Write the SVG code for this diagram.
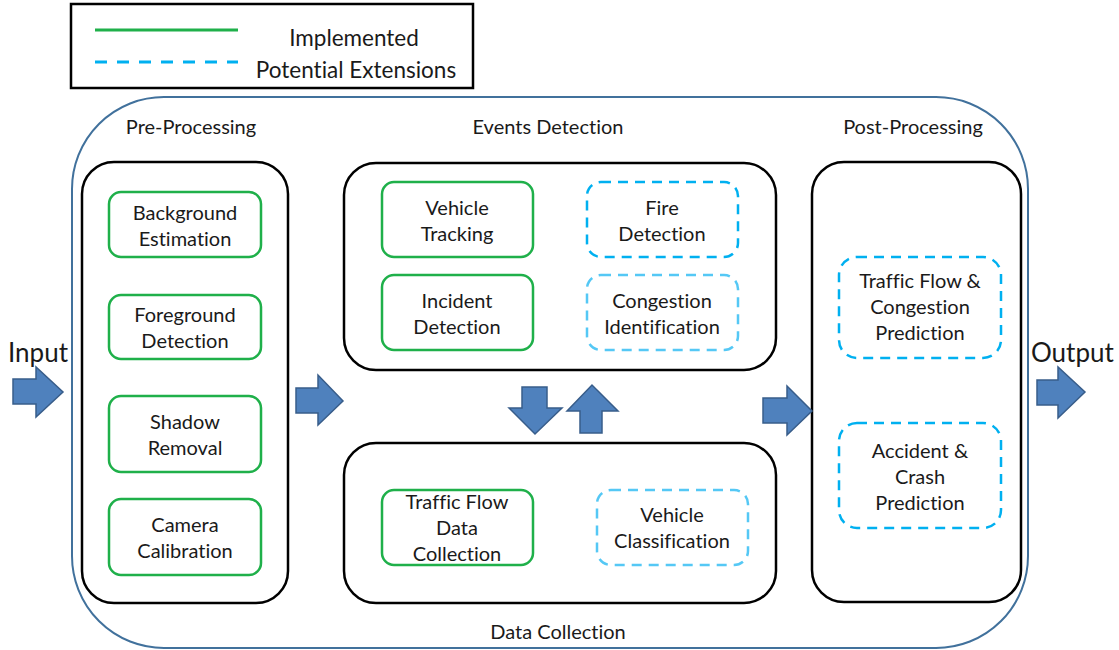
<svg xmlns="http://www.w3.org/2000/svg" width="1119" height="650" viewBox="0 0 1119 650">
<style>
text{font-family:Lato,"Open Sans","Liberation Sans",sans-serif;fill:#1a1a1a;text-anchor:middle;font-variant-ligatures:none}
.lbl{font-size:20px}
.ttl{font-size:20px}
.big{font-size:26px;text-anchor:start}
.leg{font-size:22.5px}
.grp{fill:#fff;stroke:#000;stroke-width:2.5}
.impl{fill:#fff;stroke:#1fb04a;stroke-width:2.5}
.ext{fill:#fff;stroke:#00b0f0;stroke-width:2.5;stroke-dasharray:10 7}
.ext2{fill:#fff;stroke:#55c8f5;stroke-width:2.5;stroke-dasharray:10 7}
.arr{fill:#4f81bd;stroke:#385d8a;stroke-width:1.5;stroke-linejoin:miter}
</style>
<rect width="1119" height="650" fill="#fff"/>
<g id="legend">
<rect x="71" y="4" width="402" height="84" fill="#fff" stroke="#000" stroke-width="2.5"/>
<line x1="95" y1="30" x2="238" y2="30" stroke="#1fb04a" stroke-width="3"/>
<line x1="95" y1="62" x2="238" y2="62" stroke="#00b0f0" stroke-width="3" stroke-dasharray="12 10"/>
<text class="leg" x="354" y="46">Implemented</text>
<text class="leg" x="356" y="78">Potential Extensions</text>
</g>
<g id="system">
<rect x="72" y="97" width="956" height="551" rx="92" ry="92" fill="none" stroke="#41719c" stroke-width="2"/>
<text class="ttl" x="191" y="134">Pre-Processing</text>
<text class="ttl" x="548" y="134">Events Detection</text>
<text class="ttl" x="913" y="134">Post-Processing</text>
<text class="ttl" x="558" y="639">Data Collection</text>
</g>
<g id="pre-processing">
<rect class="grp" x="82" y="162" width="206" height="441" rx="32"/>
</g>
<g id="background-estimation">
<rect class="impl" x="109" y="192" width="152" height="65" rx="12"/>
<text class="lbl" x="185" y="220">Background</text>
<text class="lbl" x="185" y="246">Estimation</text>
</g>
<g id="foreground-detection">
<rect class="impl" x="109" y="295" width="152" height="64" rx="12"/>
<text class="lbl" x="185" y="322">Foreground</text>
<text class="lbl" x="185" y="348">Detection</text>
</g>
<g id="shadow-removal">
<rect class="impl" x="109" y="396" width="152" height="76" rx="12"/>
<text class="lbl" x="185" y="429">Shadow</text>
<text class="lbl" x="185" y="455">Removal</text>
</g>
<g id="camera-calibration">
<rect class="impl" x="109" y="499" width="152" height="76" rx="12"/>
<text class="lbl" x="185" y="532">Camera</text>
<text class="lbl" x="185" y="558">Calibration</text>
</g>
<g id="events-detection">
<rect class="grp" x="344" y="163" width="432" height="207" rx="32"/>
</g>
<g id="vehicle-tracking">
<rect class="impl" x="382" y="182" width="151" height="75" rx="12"/>
<text class="lbl" x="457" y="215">Vehicle</text>
<text class="lbl" x="457" y="241">Tracking</text>
</g>
<g id="incident-detection">
<rect class="impl" x="382" y="275" width="151" height="75" rx="12"/>
<text class="lbl" x="457" y="308">Incident</text>
<text class="lbl" x="457" y="334">Detection</text>
</g>
<g id="fire-detection">
<rect class="ext" x="587" y="182" width="151" height="75" rx="14"/>
<text class="lbl" x="662" y="215">Fire</text>
<text class="lbl" x="662" y="241">Detection</text>
</g>
<g id="congestion-identification">
<rect class="ext2" x="587" y="275" width="151" height="75" rx="14"/>
<text class="lbl" x="662" y="308">Congestion</text>
<text class="lbl" x="662" y="334">Identification</text>
</g>
<g id="data-collection">
<rect class="grp" x="344" y="443" width="432" height="160" rx="32"/>
</g>
<g id="traffic-flow-data-collection">
<rect class="impl" x="382" y="490" width="151" height="75" rx="12"/>
<text class="lbl" x="457" y="509">Traffic Flow</text>
<text class="lbl" x="457" y="535">Data</text>
<text class="lbl" x="457" y="561">Collection</text>
</g>
<g id="vehicle-classification">
<rect class="ext2" x="597" y="490" width="151" height="75" rx="14"/>
<text class="lbl" x="672" y="522">Vehicle</text>
<text class="lbl" x="672" y="548">Classification</text>
</g>
<g id="post-processing">
<rect class="grp" x="812" y="162" width="209" height="440" rx="32"/>
</g>
<g id="traffic-flow-congestion-prediction">
<rect class="ext" x="839" y="257" width="162" height="101" rx="18"/>
<text class="lbl" x="920" y="288">Traffic Flow &amp;</text>
<text class="lbl" x="920" y="314">Congestion</text>
<text class="lbl" x="920" y="340">Prediction</text>
</g>
<g id="accident-crash-prediction">
<rect class="ext" x="839" y="423" width="162" height="105" rx="18"/>
<text class="lbl" x="920" y="458">Accident &amp;</text>
<text class="lbl" x="920" y="484">Crash</text>
<text class="lbl" x="920" y="510">Prediction</text>
</g>
<g id="input">
<text class="big" x="8" y="362">Input</text>
</g>
<g id="output">
<text class="big" x="1031" y="362">Output</text>
</g>
<g id="connectors">
<polygon class="arr" points="13,379 36,379 36,367 63,392 36,417 36,404 13,404"/>
<polygon class="arr" points="296,388 318,388 318,375 343,401 318,425 318,413 296,413"/>
<polygon class="arr" points="763,398 787,398 787,386 812,411 787,435 787,423 763,423"/>
<polygon class="arr" points="1037,380 1058,380 1058,367 1085,392 1058,418 1058,405 1037,405"/>
<polygon class="arr" points="522,387 547,387 547,408 562,408 535,434 509,408 522,408"/>
<polygon class="arr" points="580,433 602,433 602,411 618,411 592,385 567,411 580,411"/>
</g>
</svg>
